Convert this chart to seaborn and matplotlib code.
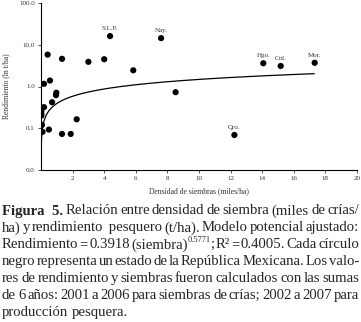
import matplotlib

matplotlib.use("Agg")
import matplotlib.pyplot as plt
import numpy as np
import pandas as pd
import seaborn as sns
from matplotlib.ticker import FixedLocator, FormatStrFormatter, NullLocator

# densidad de siembras (miles/ha) vs rendimiento (t/ha), one point per state
densidad = [0.42, 1.33, 0.19, 0.57, 0.97, 0.95, 0.70, 0.19, 0.02, 0.02, 0.02,
            0.06, 0.10, 0.50, 1.33, 1.88, 2.26, 3.00, 4.00, 4.37, 5.84, 7.60,
            8.52, 14.07, 15.17, 17.32, 12.24]
rendimiento = [5.8, 4.6, 1.16, 1.39, 0.71, 0.62, 0.42, 0.32, 0.25, 0.22, 0.20,
               0.12, 0.082, 0.093, 0.073, 0.073, 0.164, 3.9, 4.5, 16.1, 2.44,
               14.4, 0.73, 3.6, 3.1, 3.7, 0.069]
estado = [""] * 19 + ["S.L.P.", "", "Nay.", "", "Hgo.", "Col.", "Mor.", "Qro."]

# fitted power model from the caption
COEF_A, COEF_B = 0.3918, 0.5771
fit_x = np.concatenate([np.linspace(0.0017, 0.2, 60), np.linspace(0.2, 17.3, 120)])
fit = pd.DataFrame({"x": fit_x, "y": COEF_A * fit_x ** COEF_B})

xticks = [2, 4, 6, 8, 10, 12, 14, 16, 18, 20]
yticks = [0.01, 0.1, 1, 10, 100]

# caption words: "" normal, "bold", "sup" = superscript glued to previous word
caption = [
    [("Figura  5.", "bold"), ("Relación", ""), ("entre", ""), ("densidad", ""),
     ("de", ""), ("siembra", ""), ("(miles", ""), ("de", ""), ("crías/", "")],
    [("ha)", ""), ("y", ""), ("rendimiento", ""), (" pesquero", ""), ("(t/ha).", ""),
     ("Modelo", ""), ("potencial", ""), ("ajustado:", "")],
    [("Rendimiento", ""), ("=", ""), ("0.3918", ""), ("(siembra)", ""), ("0.5771", "sup"),
     (";", "glue"), ("R²", ""), ("=", ""), ("0.4005.", ""), ("Cada", ""), ("círculo", "")],
    [("negro", ""), ("representa", ""), ("un", ""), ("estado", ""), ("de", ""), ("la", ""),
     ("República", ""), ("Mexicana.", ""), ("Los", ""), ("valo-", "")],
    [("res", ""), ("de", ""), ("rendimiento", ""), ("y", ""), ("siembras", ""),
     ("fueron", ""), ("calculados", ""), ("con", ""), ("las", ""), ("sumas", "")],
    [("de", ""), ("6", ""), ("años:", ""), ("2001", ""), ("a", ""), ("2006", ""), ("para", ""),
     ("siembras", ""), ("de", ""), ("crías;", ""), ("2002", ""), ("a", ""), ("2007", ""),
     ("para", "")],
    [("producción", ""), ("pesquera.", "")],
]

sns.set_theme(style="ticks")
plt.rcParams["font.family"] = ["Liberation Serif", "DejaVu Serif"]

fig = plt.figure(figsize=(3.61, 3.22), dpi=100)
ax = fig.add_axes([41 / 361, 1 - 170 / 322, 316 / 361, 167 / 322])

sns.lineplot(data=fit, x="x", y="y", color="black", lw=0.9, ax=ax)
df = pd.DataFrame({"x": densidad, "y": rendimiento})
sns.scatterplot(data=df, x="x", y="y", color="black", s=20, edgecolor="none", ax=ax)
for x, y, t in zip(densidad, rendimiento, estado):
    if t:
        ax.annotate(t, (x, y), xytext=(0, 3.5), textcoords="offset points",
                    ha="center", va="bottom", fontsize=5, color="#333333")

ax.set_yscale("log")
ax.set_xlim(0, 20)
ax.set_ylim(0.01, 100)
ax.xaxis.set_major_locator(FixedLocator(xticks))
ax.yaxis.set_major_locator(FixedLocator(yticks))
ax.yaxis.set_minor_locator(NullLocator())
ax.yaxis.set_major_formatter(FormatStrFormatter("%.1f"))
ax.tick_params(labelsize=5, length=2.5, width=0.6, pad=2, colors="#333333")
ax.set_xlabel("Densidad de siembras (miles/ha)", fontsize=5.5, labelpad=4, color="#333333")
ax.set_ylabel("Rendimiento (ln t/ha)", fontsize=5.5, labelpad=6, color="#333333")
for s in ["left", "bottom"]:
    ax.spines[s].set_linewidth(0.8)
    ax.spines[s].set_color("black")
sns.despine(ax=ax)

# justified caption below the chart
fig.canvas.draw()
renderer = fig.canvas.get_renderer()
left_px, right_px = 2, 359
y_px = 211
for i, line in enumerate(caption):
    groups = []  # each group = list of (text, width, raise)
    for word, kind in line:
        size = 6 if kind == "sup" else 10.6
        t = fig.text(0, 0, word, fontsize=size,
                     fontweight="bold" if kind == "bold" else "normal",
                     va="center", ha="left", transform=None)
        piece = (t, t.get_window_extent(renderer).width, 4.5 if kind == "sup" else 0)
        if kind in ("sup", "glue"):
            groups[-1].append(piece)
        else:
            groups.append([piece])
    widths = [sum(p[1] for p in g) for g in groups]
    last = i == len(caption) - 1
    gap = 3.2 if last else (right_px - left_px - sum(widths)) / (len(groups) - 1)
    x = left_px
    for g, gw in zip(groups, widths):
        xx = x
        for t, w, up in g:
            t.set_position((xx, 322 - y_px + up))
            xx += w
        x += gw + gap
    y_px += 16.9

fig.savefig("out.png", dpi=100)
